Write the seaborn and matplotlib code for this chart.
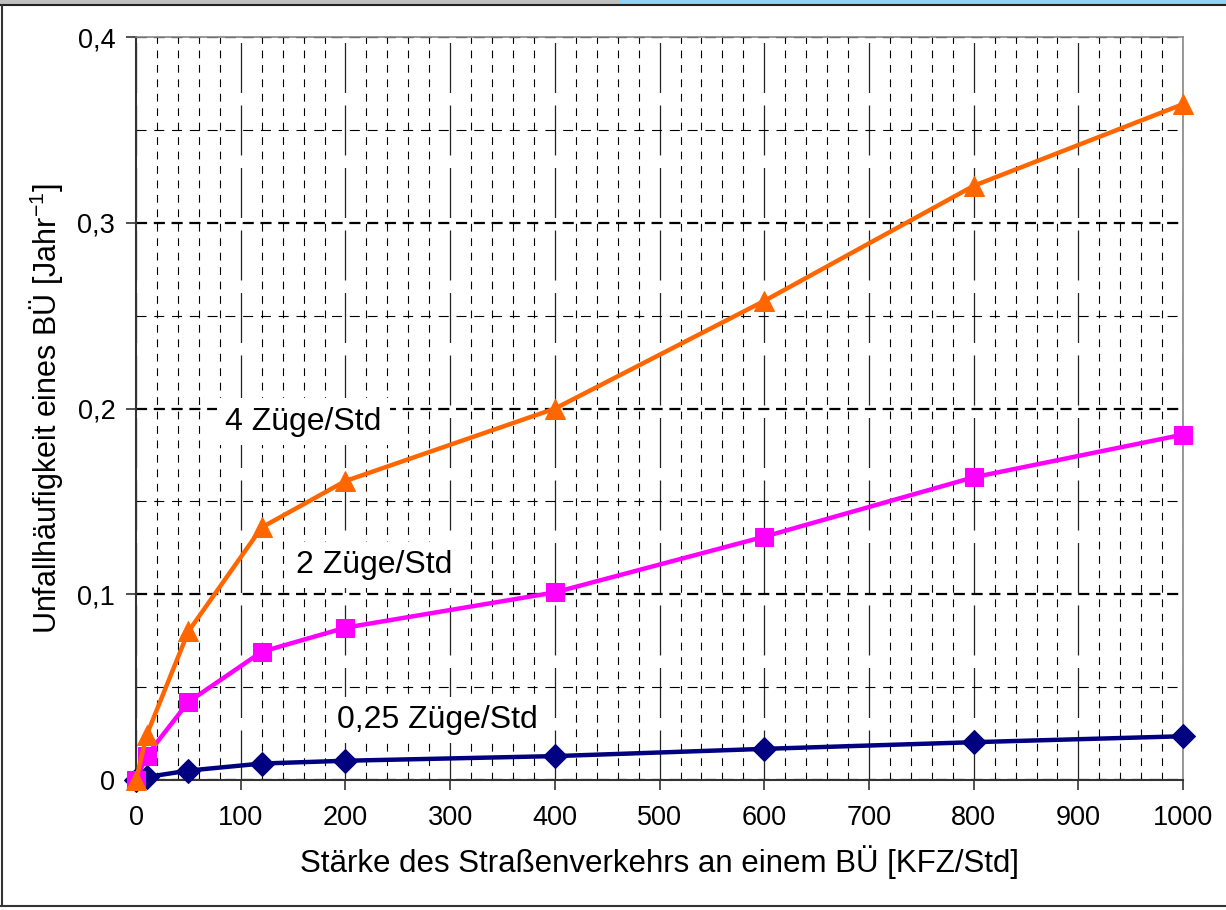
import pandas as pd
import matplotlib.pyplot as plt
import seaborn as sns
from matplotlib.ticker import MultipleLocator, FuncFormatter

# Werte
kfz = [0, 10, 50, 120, 200, 400, 600, 800, 1000]
zuege_4 = [0.0, 0.024, 0.080, 0.136, 0.161, 0.200, 0.258, 0.320, 0.364]
zuege_2 = [0.0, 0.013, 0.042, 0.069, 0.082, 0.101, 0.131, 0.163, 0.186]
zuege_025 = [0.0, 0.0015, 0.005, 0.0088, 0.0103, 0.0128, 0.0167, 0.0203, 0.0235]
serien = ["4 Züge/Std", "2 Züge/Std", "0,25 Züge/Std"]

df = pd.concat([
    pd.DataFrame({"kfz": kfz, "rate": zuege_025, "serie": serien[2]}),
    pd.DataFrame({"kfz": kfz, "rate": zuege_2, "serie": serien[1]}),
    pd.DataFrame({"kfz": kfz, "rate": zuege_4, "serie": serien[0]}),
])

sns.set_style("white")
plt.rcParams['font.family'] = ['Liberation Sans', 'DejaVu Sans']
plt.rcParams['text.color'] = 'black'
plt.rcParams['axes.labelcolor'] = 'black'
plt.rcParams['xtick.color'] = 'black'
plt.rcParams['ytick.color'] = 'black'

fig = plt.figure(figsize=(12.26, 9.10), dpi=100)
ax = fig.add_axes([0.111, 0.143, 0.854, 0.816])

farben = {serien[0]: "#FF6600", serien[1]: "#FF00FF", serien[2]: "#000080"}
marker = {serien[0]: "^", serien[1]: "s", serien[2]: "D"}
groesse = {serien[0]: 14, serien[1]: 13.5, serien[2]: 12}

for s in [serien[2], serien[1], serien[0]]:
    sns.lineplot(data=df[df["serie"] == s], x="kfz", y="rate", ax=ax,
                 color=farben[s], marker=marker[s], markersize=groesse[s],
                 markeredgecolor=farben[s], linewidth=3.2, clip_on=False,
                 zorder=5, legend=False)

ax.set_xlim(0, 1000)
ax.set_ylim(0, 0.4)
ax.xaxis.set_major_locator(MultipleLocator(100))
ax.xaxis.set_minor_locator(MultipleLocator(20))
ax.yaxis.set_major_locator(MultipleLocator(0.1))
ax.yaxis.set_minor_locator(MultipleLocator(0.05))
ax.yaxis.set_major_formatter(FuncFormatter(lambda v, p: "0" if v == 0 else f"{v:.1f}".replace(".", ",")))

# Gitternetz
ax.grid(which="major", axis="x", color="#222222", linestyle=(0, (40, 10)), linewidth=0.9)
ax.grid(which="minor", axis="x", color="black", linestyle=(0, (7, 6)), linewidth=0.8)
ax.grid(which="major", axis="y", color="black", linestyle=(0, (5, 3)), linewidth=1.6)
ax.grid(which="minor", axis="y", color="black", linestyle=(0, (9, 7)), linewidth=0.8)
ax.set_axisbelow(True)

for sp in ["top", "right"]:
    ax.spines[sp].set_color("#888888")
    ax.spines[sp].set_linewidth(1.2)
for sp in ["left", "bottom"]:
    ax.spines[sp].set_color("#333333")
    ax.spines[sp].set_linewidth(1.5)

ax.tick_params(axis="both", which="major", direction="out", length=7, width=1.2,
               color="#333333", labelcolor="black", labelsize=19.5, bottom=True, left=True)
ax.tick_params(axis="x", which="major", pad=11)
ax.tick_params(axis="y", which="major", pad=8)
ax.tick_params(which="minor", length=0)

ax.set_xlabel("Stärke des Straßenverkehrs an einem BÜ [KFZ/Std]", fontsize=22.5, labelpad=10)
ax.set_ylabel("Unfallhäufigkeit eines BÜ [Jahr$^{\\mathregular{-1}}$]", fontsize=22, labelpad=8)

box = dict(facecolor="white", edgecolor="none", pad=6)
ax.text(85, 0.193, "4 Züge/Std", fontsize=23, va="center", ha="left", bbox=box, zorder=4)
ax.text(153, 0.1157, "2 Züge/Std", fontsize=23, va="center", ha="left", bbox=box, zorder=4)
ax.text(192, 0.0323, "0,25 Züge/Std", fontsize=23, va="center", ha="left", bbox=box, zorder=4)

# Rahmen und Reststreifen oben
fig.add_artist(plt.Rectangle((0, 0.9956), 0.506, 0.0044, transform=fig.transFigure,
                             facecolor="#c0c0c0", edgecolor="none"))
fig.add_artist(plt.Rectangle((0.506, 0.9956), 0.494, 0.0044, transform=fig.transFigure,
                             facecolor="#8fd3f5", edgecolor="none"))
fig.add_artist(plt.Line2D([0, 1], [0.995, 0.995], transform=fig.transFigure, color="#222222", lw=1.5))
fig.add_artist(plt.Line2D([0.0015, 0.0015], [0.004, 0.995], transform=fig.transFigure, color="#333333", lw=1.5))
fig.add_artist(plt.Line2D([0, 1], [0.0045, 0.0045], transform=fig.transFigure, color="#333333", lw=1.5))

fig.savefig("out.png", dpi=100)
